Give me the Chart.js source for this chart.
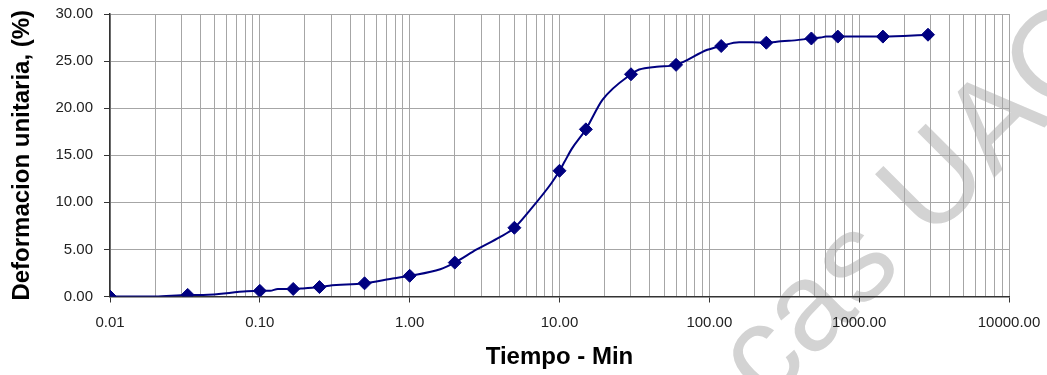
<!DOCTYPE html>
<html>
<head>
<meta charset="utf-8">
<script src="https://cdn.jsdelivr.net/npm/chart.js@4.4.1/dist/chart.umd.min.js"></script>
<style>
  html, body { margin: 0; padding: 0; background: #fff; }
  #wrap { width: 1047px; height: 375px; position: relative; }
</style>
</head>
<body>
<div id="wrap"><canvas id="consolidChart" width="1047" height="375"></canvas></div>
<script>
/* =========================
   DATA
========================= */
// tiempo (min) of the marked readings
const markerTime = [0.01, 0.033, 0.1, 0.167, 0.25, 0.5, 1, 2, 5, 10, 15, 30, 60, 120, 240, 480, 720, 1440, 2880];
// deformacion unitaria (%) at those readings
const markerStrain = [0, 0.17, 0.6, 0.8, 1.0, 1.4, 2.2, 3.6, 7.3, 13.35, 17.75, 23.6, 24.6, 26.6, 26.95, 27.4, 27.6, 27.6, 27.8];

// the curve passes through some extra readings too
const curveTime = [0.01, 0.02, 0.033, 0.042, 0.082, 0.1, 0.117, 0.132, 0.167, 0.194, 0.25, 0.29, 0.5, 0.74, 1, 1.6, 2,
  2.8, 4.0, 5, 6.3, 8.8, 10, 10.8, 12.1, 15, 19.4, 30, 34, 44.5, 60, 97, 120, 158, 193, 240, 300, 339, 480, 555,
  600, 720, 1440, 2880];
const curveStrain = [0, 0, 0.17, 0.17, 0.55, 0.6, 0.6, 0.8, 0.8, 0.85, 1.0, 1.15, 1.4, 1.85, 2.2, 2.9, 3.6,
  5.0, 6.3, 7.3, 9.1, 12.0, 13.35, 14.3, 15.7, 17.75, 20.9, 23.6, 24.1, 24.4, 24.6, 26.2, 26.6, 27.0, 27.0, 26.95, 27.1, 27.15, 27.4, 27.5,
  27.6, 27.6, 27.6, 27.8];

// log axis: gridline at every 1..9 x 10^k
const xDecades = [0.01, 0.1, 1, 10, 100, 1000];
const xTickValues = xDecades.flatMap(d => [1, 2, 3, 4, 5, 6, 7, 8, 9].map(m => +(m * d).toPrecision(3))).concat([10000]);

const yMin = 0, yMax = 30, yStep = 5;

const xTitle = "Tiempo - Min";
const yTitle = "Deformacion unitaria, (%)";
const watermark = "cas UAC";

/* =========================
   HELPERS
========================= */
const FONT = "'Liberation Sans', Arial, sans-serif";
const NAVY = "#000080";
const GRID = "#a6a6a6";

function isDecade(v) {
  const l = Math.log10(v);
  return Math.abs(l - Math.round(l)) < 1e-6;
}

const toPoints = (xs, ys) => xs.map((x, i) => ({ x, y: ys[i] }));

// faint watermark behind the plot
const watermarkPlugin = {
  id: "watermark",
  beforeDraw(chart) {
    const ctx = chart.ctx;
    ctx.save();
    ctx.translate(766, 406);
    ctx.rotate(-Math.PI / 4);
    ctx.font = "126px " + FONT;
    ctx.fillStyle = "#d3d3d3";
    ctx.textBaseline = "alphabetic";
    ctx.fillText(watermark, 0, 0);
    ctx.restore();
  },
};

/* =========================
   CHART
========================= */
new Chart(document.getElementById("consolidChart"), {
  type: "scatter",
  data: {
    datasets: [
      {
        label: "curve",
        data: toPoints(curveTime, curveStrain),
        showLine: true,
        borderColor: NAVY,
        borderWidth: 2,
        pointRadius: 0,
        cubicInterpolationMode: "monotone",
      },
      {
        label: "lecturas",
        data: toPoints(markerTime, markerStrain),
        showLine: false,
        pointStyle: "rectRot",
        pointRadius: 6.5,
        backgroundColor: NAVY,
        borderColor: NAVY,
        borderWidth: 1,
      },
    ],
  },
  options: {
    responsive: false,
    devicePixelRatio: 1,
    animation: false,
    layout: { padding: { top: 14, right: 38, left: 0, bottom: 0 } },
    plugins: {
      legend: { display: false },
      tooltip: { enabled: false },
    },
    scales: {
      x: {
        type: "logarithmic",
        min: 0.01,
        max: 10000,
        afterBuildTicks: (s) => { s.ticks = xTickValues.map(v => ({ value: v })); },
        afterFit: (s) => { s.height = 78.5; s.paddingLeft = 0; s.paddingRight = 0; },
        ticks: {
          autoSkip: false,
          maxRotation: 0,
          padding: 11,
          color: "#222",
          font: { family: FONT, size: 15 },
          callback: (v) => (isDecade(v) ? Number(v).toFixed(2) : ""),
        },
        grid: {
          color: GRID,
          tickLength: 6,
          tickColor: (c) => (c.tick && isDecade(c.tick.value) ? "#333" : "rgba(0,0,0,0)"),
        },
        border: { color: "#333", width: 1.5 },
        title: {
          display: true,
          text: xTitle,
          color: "#000",
          font: { family: FONT, size: 24, weight: "bold" },
          padding: { top: 0, bottom: 3 },
        },
      },
      y: {
        min: yMin,
        max: yMax,
        afterFit: (s) => { s.width = 110; s.paddingTop = 0; s.paddingBottom = 0; },
        ticks: {
          stepSize: yStep,
          padding: 11,
          color: "#222",
          font: { family: FONT, size: 15 },
          callback: (v) => Number(v).toFixed(2),
        },
        grid: { color: GRID, tickLength: 6, tickColor: "#333" },
        border: { color: "#333", width: 1.5 },
        title: {
          display: true,
          text: yTitle,
          color: "#000",
          font: { family: FONT, size: 24, weight: "bold" },
          padding: { top: 8, bottom: 0 },
        },
      },
    },
  },
  plugins: [watermarkPlugin],
});
</script>
</body>
</html>
